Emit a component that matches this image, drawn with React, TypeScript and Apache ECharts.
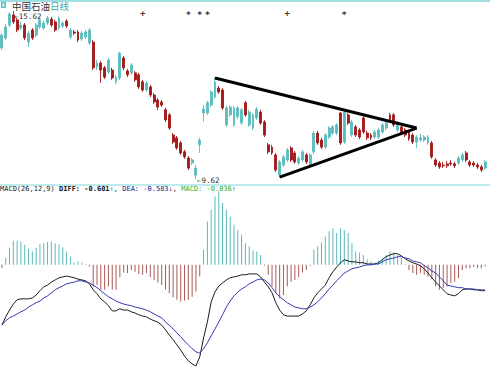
import React, { useEffect, useRef } from 'react';
import * as echarts from 'echarts';

const stockName = '中国石油';
const periodName = '日线';
const macdTitle = 'MACD(26,12,9)';
const diffLast = -0.601;
const deaLast = -0.583;
const macdLast = -0.036;

// [open, close, low, high]
const candles: number[][] = [
  [14.30,14.76,14.23,14.83],[14.66,15.05,14.58,15.16],[15.12,15.51,15.05,15.58],[15.48,15.23,15.16,15.62],
  [15.30,14.94,14.87,15.37],[15.01,15.12,14.94,15.23],[15.12,14.66,14.58,15.19],[14.51,14.83,14.33,14.91],
  [14.94,14.66,14.58,15.01],[14.76,15.12,14.69,15.19],[15.05,15.30,14.98,15.37],[15.01,15.19,14.94,15.26],
  [15.19,15.37,15.12,15.44],[15.33,15.12,15.05,15.41],[15.23,14.94,14.87,15.30],[15.01,15.37,14.94,15.44],
  [15.08,15.19,15.01,15.26],[15.26,15.08,15.01,15.33],[14.69,14.94,14.62,15.01],[14.87,14.83,14.76,14.94],
  [14.87,14.58,14.51,14.94],[14.62,14.83,14.55,14.91],[14.69,14.87,14.62,14.94],[14.48,14.94,14.41,15.01],
  [14.51,13.59,13.51,14.58],[13.62,13.76,13.51,13.87],[13.76,13.51,13.05,13.84],[13.59,13.26,13.19,13.66],
  [13.44,13.87,13.37,13.94],[13.51,13.23,13.16,13.59],[13.09,13.26,13.01,13.34],[13.23,14.12,13.16,14.16],
  [13.94,13.59,13.51,14.01],[13.48,13.34,13.26,13.55],[13.41,13.69,13.34,13.76],[13.41,13.16,13.09,13.48],
  [13.34,12.91,12.84,13.41],[13.09,12.80,12.73,13.16],[12.80,13.05,12.73,13.12],[12.91,12.62,12.55,12.98],
  [12.62,12.37,12.30,12.69],[12.44,12.19,12.09,12.51],[12.37,12.26,12.19,12.44],[12.09,11.73,11.66,12.16],
  [11.91,11.44,11.37,11.98],[11.19,10.94,10.87,11.26],[11.09,10.73,10.66,11.16],[10.91,10.55,10.48,10.98],
  [10.59,10.41,10.34,10.66],[10.37,10.01,9.94,10.44],[10.19,10.30,10.12,10.37],[9.76,10.01,9.62,10.12],
  [10.84,11.01,10.55,11.09],[11.98,12.12,11.66,12.26],[11.98,12.34,11.91,12.41],[12.26,12.73,12.19,12.80],
  [12.55,13.09,12.48,13.23],[12.87,12.73,12.66,12.94],[12.80,12.16,12.09,12.87],[11.55,12.16,11.48,12.23],
  [11.91,12.19,11.84,12.26],[11.55,12.16,11.48,12.23],[11.84,12.16,11.76,12.23],[11.62,12.09,11.55,12.16],
  [12.34,11.91,11.84,12.41],[11.55,12.01,11.48,12.09],[11.44,11.91,11.37,11.98],[11.80,12.12,11.73,12.19],
  [12.01,11.62,11.55,12.09],[11.66,11.19,11.12,11.73],[10.84,10.59,10.51,10.91],[10.76,10.55,10.48,10.84],
  [10.48,9.94,9.87,10.55],[9.76,10.23,9.69,10.30],[10.12,10.41,10.05,10.48],[10.30,10.66,10.23,10.73],
  [10.73,10.30,10.23,10.80],[10.55,10.23,10.16,10.62],[10.19,10.37,10.12,10.44],[10.30,10.59,10.23,10.66],
  [10.48,10.23,10.16,10.55],[10.12,10.48,10.05,10.55],[10.59,11.26,10.51,11.34],[11.26,10.91,10.84,11.34],
  [11.01,10.76,10.69,11.09],[10.76,11.19,10.69,11.26],[11.12,11.44,11.05,11.51],[11.26,11.48,11.19,11.55],
  [11.26,11.55,11.19,11.62],[11.98,10.91,10.84,12.01],[10.94,12.01,10.87,12.05],[11.91,11.62,11.55,11.98],
  [11.19,11.66,11.12,11.73],[11.48,11.19,11.12,11.55],[11.37,11.12,11.05,11.44],[11.80,11.30,11.23,11.87],
  [11.26,11.09,11.01,11.34],[11.19,11.09,11.01,11.26],[11.12,11.30,11.05,11.37],[11.12,11.37,11.05,11.44],
  [11.30,11.55,11.23,11.62],[11.44,11.62,11.37,11.69],[11.91,11.73,11.66,11.98],[11.91,11.55,11.48,11.98],
  [11.37,11.62,11.30,11.69],[11.48,11.26,11.19,11.55],[11.37,11.19,11.12,11.44],[11.30,11.05,10.98,11.37],
  [11.19,10.94,10.87,11.26],[10.94,11.12,10.73,11.19],[11.01,11.09,10.94,11.23],[11.01,11.12,10.94,11.19],
  [10.91,11.12,10.84,11.19],[10.91,10.41,10.34,10.98],[10.30,10.12,10.05,10.37],[10.19,10.05,9.98,10.26],
  [10.12,10.09,10.01,10.23],[10.16,10.09,10.01,10.26],[10.19,10.16,10.09,10.30],[10.16,10.09,10.01,10.23],
  [10.19,10.37,10.12,10.44],[10.30,10.48,10.23,10.55],[10.55,10.30,10.23,10.62],[10.23,10.12,10.05,10.30],
  [10.19,10.12,10.05,10.26],[10.12,10.05,9.98,10.19],[10.05,9.94,9.87,10.12],[10.01,10.23,9.94,10.30],
];

const diffValues: number[] = [
  -1.40,-1.21,-1.05,-0.91,-0.81,-0.79,-0.79,-0.79,-0.77,-0.70,-0.60,-0.51,-0.47,-0.40,-0.35,-0.30,
  -0.28,-0.26,-0.28,-0.30,-0.33,-0.35,-0.37,-0.44,-0.58,-0.67,-0.79,-0.86,-0.95,-1.07,-1.07,-1.02,
  -1.05,-1.05,-1.09,-1.12,-1.16,-1.19,-1.21,-1.26,-1.30,-1.33,-1.40,-1.51,-1.63,-1.74,-1.86,-1.98,
  -2.12,-2.23,-2.30,-2.35,-2.14,-1.70,-1.33,-0.86,-0.63,-0.49,-0.42,-0.35,-0.30,-0.28,-0.26,-0.23,
  -0.23,-0.21,-0.21,-0.21,-0.28,-0.40,-0.51,-0.65,-0.88,-1.05,-1.16,-1.19,-1.19,-1.19,-1.19,-1.14,
  -1.07,-0.93,-0.77,-0.65,-0.56,-0.47,-0.30,-0.16,-0.05,0.05,0.12,0.09,0.07,0.07,0.05,0.05,
  0.02,0.02,0.02,0.05,0.12,0.19,0.23,0.26,0.26,0.21,0.14,0.09,0.05,0.02,-0.02,-0.09,
  -0.19,-0.30,-0.40,-0.49,-0.58,-0.67,-0.70,-0.72,-0.67,-0.58,-0.56,-0.56,-0.58,-0.58,-0.60,-0.601,
];

const deaValues: number[] = [
  -1.40,-1.30,-1.23,-1.19,-1.14,-1.09,-1.05,-0.98,-0.93,-0.88,-0.84,-0.77,-0.72,-0.65,-0.58,-0.53,
  -0.49,-0.44,-0.42,-0.40,-0.37,-0.37,-0.40,-0.42,-0.47,-0.53,-0.60,-0.67,-0.74,-0.79,-0.84,-0.88,
  -0.91,-0.93,-0.95,-0.98,-1.00,-1.02,-1.05,-1.09,-1.14,-1.19,-1.23,-1.33,-1.40,-1.49,-1.58,-1.67,
  -1.77,-1.86,-1.95,-2.02,-2.05,-1.95,-1.81,-1.65,-1.49,-1.33,-1.16,-0.98,-0.84,-0.72,-0.63,-0.56,
  -0.51,-0.44,-0.40,-0.35,-0.33,-0.35,-0.42,-0.53,-0.65,-0.74,-0.81,-0.88,-0.93,-0.98,-1.00,-1.02,
  -1.02,-0.98,-0.93,-0.86,-0.77,-0.67,-0.56,-0.47,-0.37,-0.28,-0.19,-0.14,-0.09,-0.07,-0.05,-0.02,
  0.00,0.00,0.02,0.02,0.07,0.12,0.14,0.16,0.19,0.19,0.16,0.14,0.09,0.07,0.05,-0.02,
  -0.07,-0.14,-0.19,-0.28,-0.37,-0.47,-0.49,-0.51,-0.53,-0.53,-0.56,-0.56,-0.56,-0.58,-0.58,-0.583,
];

const macdHist: number[] = [
  -0.07,0.16,0.40,0.56,0.56,0.54,0.47,0.37,0.31,0.40,0.49,0.50,0.53,0.54,0.50,0.48,
  0.41,0.31,0.19,0.05,0.08,0.05,0.02,-0.04,-0.50,-0.47,-0.58,-0.58,-0.50,-0.58,-0.58,-0.29,
  -0.18,-0.19,-0.12,-0.16,-0.21,-0.23,-0.19,-0.29,-0.35,-0.41,-0.47,-0.57,-0.66,-0.75,-0.81,-0.85,
  -0.83,-0.81,-0.74,-0.62,-0.27,0.35,1.01,1.28,1.59,1.71,1.44,1.28,1.12,0.93,0.81,0.70,
  0.50,0.43,0.33,0.31,0.23,-0.02,-0.23,-0.50,-0.66,-0.78,-0.70,-0.50,-0.39,-0.35,-0.29,-0.18,
  -0.12,-0.02,0.35,0.43,0.52,0.66,0.78,0.85,0.74,0.85,0.81,0.74,0.50,0.31,0.29,0.23,
  0.13,0.08,0.05,0.10,0.16,0.23,0.31,0.29,0.23,0.16,0.02,-0.12,-0.19,-0.23,-0.19,-0.23,
  -0.27,-0.33,-0.50,-0.58,-0.54,-0.50,-0.43,-0.39,-0.31,-0.12,-0.08,-0.08,-0.05,-0.08,-0.08,-0.036,
];

const signalIdx = [37, 49, 52, 54, 75, 90];
const signalMarks = ['+', '*', '*', '*', '+', '*'];
const upperTrend = [[56, 13.23], [109, 11.44]];
const lowerTrend = [[73, 9.69], [109, 11.44]];
const days = candles.map((_, i) => `D${i + 1}`);

const UP = '#5bbdbd';
const DOWN = '#a31a1a';
const HIST_UP = '#5cb8b8';
const HIST_DOWN = '#a85a55';
const MONO = '"DejaVu Sans Mono", "Liberation Mono", monospace';

export default function App() {
  const ref = useRef<HTMLDivElement>(null);
  useEffect(() => {
    if (!ref.current) return;
    const chart = echarts.init(ref.current, undefined, { renderer: 'svg' });
    const option: any = {
      animation: false,
      backgroundColor: '#ffffff',
      grid: [
        { left: 0, width: 487, top: 11, height: 168 },
        { left: 0, width: 487, top: 190, height: 179 },
      ],
      xAxis: [
        { type: 'category', data: days, gridIndex: 0, show: false, boundaryGap: true },
        { type: 'category', data: days, gridIndex: 1, show: false, boundaryGap: true },
      ],
      yAxis: [
        { type: 'value', gridIndex: 0, min: 9.62, max: 15.62, show: false, splitLine: { show: false } },
        { type: 'value', gridIndex: 1, min: -2.42, max: 1.74, show: false, splitLine: { show: false } },
      ],
      series: [
        {
          type: 'candlestick',
          xAxisIndex: 0,
          yAxisIndex: 0,
          data: candles,
          barWidth: 2.4,
          itemStyle: { color: UP, color0: DOWN, borderColor: UP, borderColor0: DOWN, borderWidth: 0.9 },
          markPoint: {
            symbol: 'circle',
            symbolSize: 0,
            data: [
              {
                type: 'max', valueDim: 'highest',
                label: {
                  show: true, position: 'right', distance: 1, offset: [0, 5],
                  formatter: (p: any) => '←' + Number(p.value).toFixed(2),
                  color: '#333', fontSize: 7.5, fontFamily: MONO,
                },
              },
              {
                type: 'min', valueDim: 'lowest',
                label: {
                  show: true, position: 'right', distance: 1, offset: [0, 1],
                  formatter: (p: any) => '{a|←}{b|' + Number(p.value).toFixed(2) + '}',
                  rich: {
                    a: { color: '#22aa22', fontSize: 7.5, fontFamily: MONO },
                    b: { color: '#333', fontSize: 7.5, fontFamily: MONO },
                  },
                },
              },
            ],
          },
        },
        {
          type: 'line', xAxisIndex: 0, yAxisIndex: 0, data: upperTrend,
          symbol: 'none', lineStyle: { color: '#000', width: 3 }, z: 5,
        },
        {
          type: 'line', xAxisIndex: 0, yAxisIndex: 0, data: lowerTrend,
          symbol: 'none', lineStyle: { color: '#000', width: 3 }, z: 5,
        },
        {
          type: 'scatter', xAxisIndex: 0, yAxisIndex: 0,
          data: signalIdx.map((idx, k) => ({
            value: [idx, 15.56],
            label: { offset: [0, signalMarks[k] === '*' ? 2 : 0] },
          })),
          symbolSize: 1,
          itemStyle: { color: 'rgba(0,0,0,0)' },
          label: {
            show: true, position: 'inside',
            formatter: (p: any) => signalMarks[p.dataIndex],
            color: '#000', textBorderWidth: 0, fontSize: 9, fontWeight: 'bold', fontFamily: MONO,
          },
        },
        {
          type: 'bar', xAxisIndex: 1, yAxisIndex: 1, data: macdHist, barWidth: 1,
          itemStyle: { color: (p: any) => (p.value >= 0 ? HIST_UP : HIST_DOWN) },
        },
        {
          type: 'line', xAxisIndex: 1, yAxisIndex: 1, data: diffValues, symbol: 'none',
          lineStyle: { color: '#1c1c1c', width: 1 }, z: 4,
        },
        {
          type: 'line', xAxisIndex: 1, yAxisIndex: 1, data: deaValues, symbol: 'none',
          lineStyle: { color: '#3838b4', width: 1 }, z: 4,
        },
      ],
      graphic: [
        { type: 'line', shape: { x1: 0, y1: 1, x2: 490, y2: 1 }, style: { stroke: '#9fdede', lineWidth: 2 }, silent: true },
        { type: 'line', shape: { x1: 0, y1: 185, x2: 490, y2: 185 }, style: { stroke: '#a8e4e4', lineWidth: 1.5 }, silent: true },
        { type: 'rect', shape: { x: 1, y: 2, width: 5, height: 6 }, style: { fill: '#5cc8c8' }, silent: true },
        { type: 'rect', shape: { x: 2.5, y: 3.5, width: 2, height: 3 }, style: { fill: '#d8f4f4' }, silent: true },
        {
          type: 'text', x: 12, y: 6, silent: true,
          style: {
            text: `{n|${stockName}}{p|${periodName}}`,
            verticalAlign: 'middle',
            rich: {
              n: { fill: '#333', fontSize: 9.5, fontFamily: '"Noto Sans CJK SC", sans-serif' },
              p: { fill: '#3aa8a8', fontSize: 9.5, fontFamily: '"Noto Sans CJK SC", sans-serif' },
            },
          },
        },
        {
          type: 'text', x: 0, y: 189, silent: true,
          style: {
            text:
              `{t|${macdTitle} }{d|DIFF: ${diffLast.toFixed(3)}}{u|↑}{t|, }` +
              `{e|DEA: ${deaLast.toFixed(3)}}{v|↓}{t|, }{m|MACD: ${macdLast.toFixed(3)}}{u|↑}`,
            verticalAlign: 'middle',
            rich: {
              t: { fill: '#222', fontSize: 7, fontFamily: MONO },
              d: { fill: '#111', fontSize: 7, fontFamily: MONO, fontWeight: 'bold' },
              u: { fill: '#2aa0a0', fontSize: 7, fontFamily: MONO },
              e: { fill: '#1c1c8c', fontSize: 7, fontFamily: MONO },
              v: { fill: '#8a2a9a', fontSize: 7, fontFamily: MONO },
              m: { fill: '#2fb02f', fontSize: 7, fontFamily: MONO },
            },
          },
        },
      ],
    };
    chart.setOption(option);
    return () => chart.dispose();
  }, []);
  return (
    <div
      ref={ref}
      style={{ position: 'fixed', left: 0, top: 0, width: 490, height: 369, background: '#fff' }}
    />
  );
}
